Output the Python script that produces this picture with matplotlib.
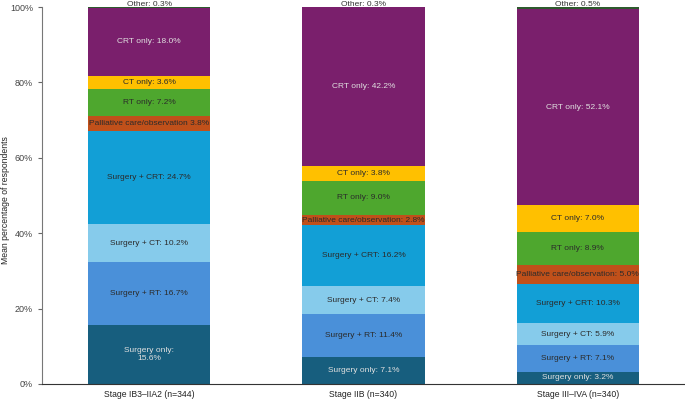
import numpy as np
import matplotlib.pyplot as plt

plt.rcParams['font.family'] = ['Liberation Sans', 'DejaVu Sans']

stages = ['Stage IB3\u2013IIA2 (n=344)', 'Stage IIB (n=340)', 'Stage III\u2013IVA (n=340)']
treatments = ['Surgery only', 'Surgery + RT', 'Surgery + CT', 'Surgery + CRT',
              'Palliative care/observation', 'RT only', 'CT only', 'CRT only', 'Other']

surgery_only = [15.6, 7.1, 3.2]
surgery_rt = [16.7, 11.4, 7.1]
surgery_ct = [10.2, 7.4, 5.9]
surgery_crt = [24.7, 16.2, 10.3]
palliative = [3.8, 2.8, 5.0]
rt_only = [7.2, 9.0, 8.9]
ct_only = [3.6, 3.8, 7.0]
crt_only = [18.0, 42.2, 52.1]
other = [0.3, 0.3, 0.5]

series = [surgery_only, surgery_rt, surgery_ct, surgery_crt, palliative,
          rt_only, ct_only, crt_only, other]

colors = ['#175e7e', '#4a90d9', '#86cbeb', '#129fd6', '#c0501a',
          '#4ea72e', '#ffc000', '#7a1f6c', '#2e5a2e']
text_colors = ['#e0e0e0', '#2b2b2b', '#2b2b2b', '#2b2b2b', '#2b2b2b',
               '#2b2b2b', '#2b2b2b', '#e0e0e0', '#333333']

fig = plt.figure(figsize=(6.85, 4.01), dpi=100)
ax = fig.add_axes([0.0613, 0.0424, 0.9387, 0.9401])

x = np.arange(len(stages))
bottom = np.zeros(len(stages))
for k, (name, vals) in enumerate(zip(treatments, series)):
    vals = np.array(vals)
    ax.bar(x, vals, 0.57, bottom=bottom, color=colors[k], linewidth=0)
    for i in range(len(stages)):
        if name == 'Other':
            ax.text(x[i], 100.8, f'{name}: {vals[i]:.1f}%', ha='center', va='center',
                    fontsize=6, color=text_colors[k], clip_on=False)
            continue
        lab = f'{name}: {vals[i]:.1f}%'
        if name == 'Palliative care/observation' and i == 0:
            lab = f'{name} {vals[i]:.1f}%'
        if name == 'Surgery only' and i == 0:
            lab = f'{name}:\n{vals[i]:.1f}%'
        ax.text(x[i], bottom[i] + vals[i] / 2, lab, ha='center', va='center',
                fontsize=6, color=text_colors[k])
    bottom += vals

ax.set_xlim(-0.5, 2.5)
ax.set_ylim(0, 100)
ax.set_yticks(range(0, 101, 20))
ax.set_yticklabels([f'{v}%' for v in range(0, 101, 20)])
ax.set_xticks(x)
ax.set_xticklabels(stages)
ax.tick_params(axis='x', length=0, labelsize=6.2, colors='#222222', pad=4)
ax.tick_params(axis='y', length=3, labelsize=6.5, colors='#666666', labelcolor='#444444')

# y label placed by hand near the left edge
fig.text(6 / 685, 0.5, 'Mean percentage of respondents', rotation=90,
         ha='center', va='center', fontsize=6.2, color='#222222')

ax.spines['top'].set_visible(False)
ax.spines['right'].set_visible(False)
ax.spines['left'].set_color('#777777')
ax.spines['bottom'].set_color('#333333')

plt.savefig('out.png', dpi=100)
